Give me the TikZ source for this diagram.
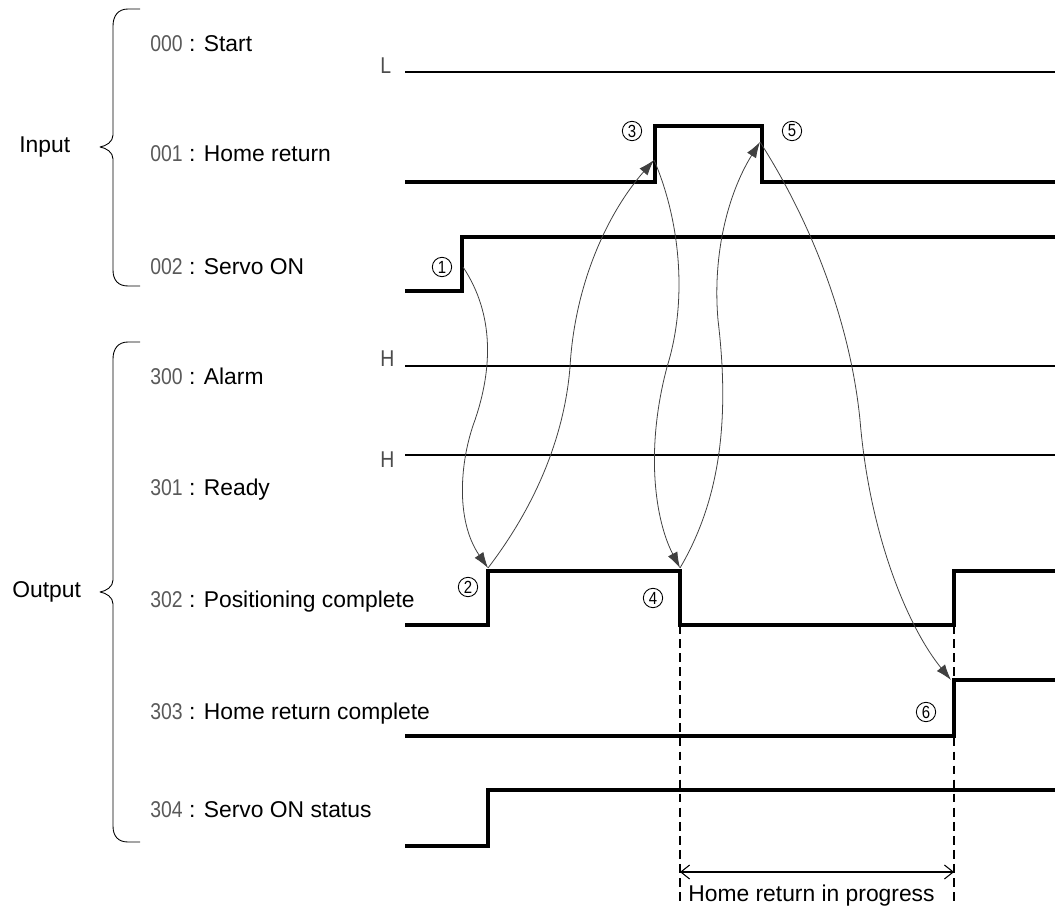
\documentclass[tikz,border=0pt]{standalone}
\usepackage{fontspec}
\setmainfont{Liberation Sans}
\newfontfamily\codefont[FakeStretch=0.85]{Liberation Sans}
\usetikzlibrary{arrows.meta,positioning}

\begin{document}
\begin{tikzpicture}[x=0.02cm,y=-0.02cm,
every node/.style={inner sep=0pt,font=\fontsize{13}{15}\selectfont},
row/.style={anchor=base west},
lvlname/.style={anchor=base west,font=\fontsize{13}{15}\codefont,text=black!70},
evt/.style={circle,draw,line width=0.5pt,minimum size=11pt,font=\fontsize{10}{12}\codefont},
sig/.style={line width=1.8pt,line join=miter},
lvl/.style={line width=1.5pt},
cause/.style={draw=black!75,line width=0.45pt,-{Latex[length=9pt,width=6pt]}},
brc/.style={line width=0.5pt,line join=round},
guide/.style={line width=0.6pt,dash pattern=on 5pt off 3pt}]
\useasboundingbox (0,0) rectangle (1055,908);
\node[row] (in) at (19,153) {Input};
\node[row] (out) at (12,598) {Output};
\node[row] (r000) at (150,52) {{\codefont\color{black!65}000} : Start};
\node[row] (r001) at (150,162) {{\codefont\color{black!65}001} : Home return};
\node[row] (r002) at (150,275) {{\codefont\color{black!65}002} : Servo ON};
\node[row] (r300) at (150,385) {{\codefont\color{black!65}300} : Alarm};
\node[row] (r301) at (150,496) {{\codefont\color{black!65}301} : Ready};
\node[row] (r302) at (150,607) {{\codefont\color{black!65}302} : Positioning complete};
\node[row] (r303) at (150,719) {{\codefont\color{black!65}303} : Home return complete};
\node[row] (r304) at (150,817) {{\codefont\color{black!65}304} : Servo ON status};
\node[lvlname] (lvlL) at (380,74) {L};
\node[lvlname] (lvlH1) at (380,367) {H};
\node[lvlname] (lvlH2) at (380,468) {H};
\node[evt] (c1) at (442,267) {1};
\node[evt] (c2) at (468,587) {2};
\node[evt] (c3) at (632,131) {3};
\node[evt] (c4) at (653,598) {4};
\node[evt] (c5) at (792,131) {5};
\node[evt] (c6) at (926,712) {6};
\draw[brc] (140,9) -- (128,9) .. controls (118,9) and (113,16) .. (113,26) -- (113,135)
  .. controls (113,142) and (106,146) .. (100,147) .. controls (106,148) and (113,152) .. (113,159)
  -- (113,270) .. controls (113,280) and (118,286) .. (128,286) -- (140,286);
\draw[brc] (140,342) -- (128,342) .. controls (118,342) and (113,349) .. (113,359) -- (113,580)
  .. controls (113,587) and (106,591) .. (100,592) .. controls (106,593) and (113,597) .. (113,604)
  -- (113,826) .. controls (113,836) and (118,842) .. (128,842) -- (140,842);
\draw[guide] (680,625) coordinate (d1) -- (680,905) coordinate (d1b);
\draw[guide] (954,625) coordinate (d2) -- (954,905) coordinate (d2b);
\draw[lvl] (405,72) -- (1055,72);
\draw[sig] (405,182) -- (655,182) -- (655,126) -- (762,126) -- (762,182) -- (1055,182);
\draw[sig] (405,291) -- (462,291) -- (462,237) -- (1055,237);
\draw[lvl] (405,366) -- (1055,366);
\draw[lvl] (405,455) -- (1055,455);
\draw[sig] (405,625) -- (488,625) -- (488,571) -- (680,571) -- (680,625) -- (954,625) -- (954,571) -- (1055,571);
\draw[sig] (405,736) -- (954,736) -- (954,680) -- (1055,680);
\draw[sig] (405,846) -- (488,846) -- (488,790) -- (1055,790);
\coordinate (p1) at (463,267);
\coordinate (p2) at (488,568);
\coordinate (p3) at (654,160);
\coordinate (p4) at (680,568);
\coordinate (p5) at (760,142);
\coordinate (p6) at (951,680);
\draw[cause] (p1) .. controls (495,315) and (492,370) .. (475,420) .. controls (460,460) and (455,520) .. (p2);
\draw[cause] (p2) .. controls (540,500) and (565,430) .. (570,367) .. controls (575,280) and (610,210) .. (p3);
\draw[cause] (p3) .. controls (680,220) and (688,300) .. (667,367) .. controls (645,450) and (655,520) .. (p4);
\draw[cause] (p4) .. controls (720,500) and (730,420) .. (718,320) .. controls (712,250) and (730,190) .. (p5);
\draw[cause] (p5) .. controls (810,220) and (850,320) .. (860,420) .. controls (870,540) and (910,630) .. (p6);
\coordinate (ha) at (680,872);
\coordinate (hb) at (954,872);
\draw[line width=0.6pt,{Straight Barb[length=5pt,width=8pt]}-{Straight Barb[length=5pt,width=8pt]}] (ha) -- (hb);
\node[row] (prog) at (688,901) {Home return in progress};
\end{tikzpicture}
\end{document}
